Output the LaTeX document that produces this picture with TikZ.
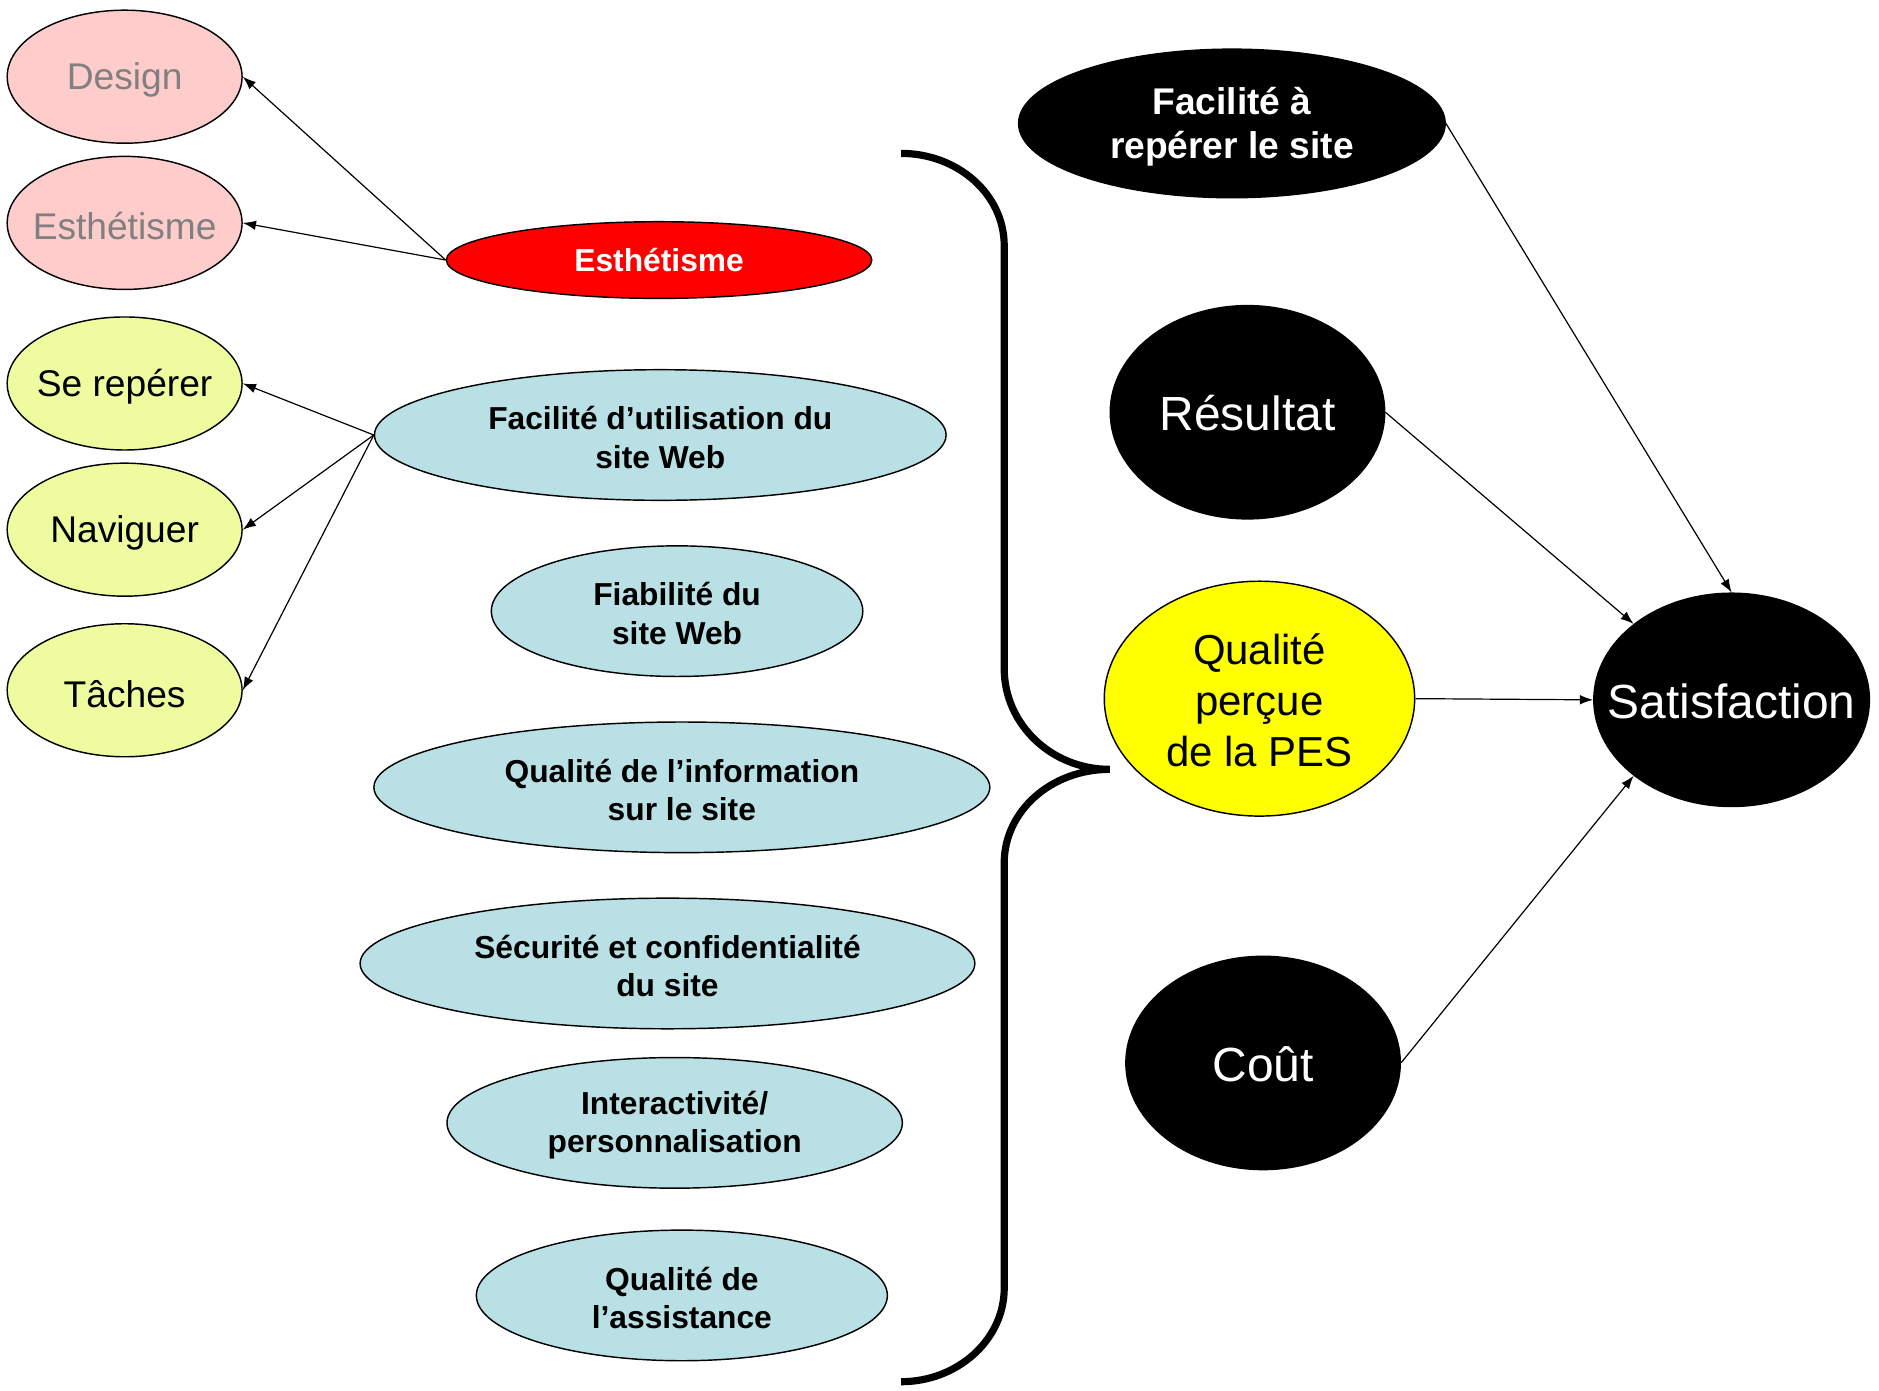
\documentclass[tikz,border=0pt]{standalone}
\usepackage{fontspec}
\setmainfont{Liberation Sans}
\usetikzlibrary{shapes.geometric,arrows.meta}

\definecolor{pinkfill}{HTML}{FFCCCC}
\definecolor{greytext}{HTML}{808080}
\definecolor{limefill}{HTML}{EEFC9F}
\definecolor{bluefill}{HTML}{B9E0E4}
\definecolor{redfill}{HTML}{FF0000}
\definecolor{yellowfill}{HTML}{FFFF00}

\begin{document}
\begin{tikzpicture}[x=1pt,y=-1pt,
  oval/.style={ellipse,draw=black,line width=1.2pt,inner sep=0pt},
  leftoval/.style={oval,minimum width=196pt,minimum height=111pt},
  blueoval/.style={oval,fill=bluefill,minimum height=109pt},
  darkoval/.style={oval,fill=black},
  lbl/.style={align=center,inner sep=0pt},
  leftlbl/.style={lbl,yshift=-3pt,font=\fontsize{31}{37}\selectfont},
  boldlbl/.style={lbl,font=\fontsize{26.5}{32}\selectfont\bfseries},
  bluelbl/.style={boldlbl,yshift=-2pt},
  biglbl/.style={lbl,text=white,yshift=-1pt,font=\fontsize{40}{46}\selectfont},
  conn/.style={-{Latex[length=11pt,width=8pt]},line width=1pt},
]
\useasboundingbox (0,0) rectangle (1568,1160);

% left column: detailed dimensions
\node[leftoval,fill=pinkfill,label={[leftlbl,text=greytext]center:Design}] (design) at (104,64) {};
\node[leftoval,fill=pinkfill,label={[leftlbl,text=greytext]center:Esthétisme}] (esth) at (104,186) {};
\node[leftoval,fill=limefill,label={[leftlbl]center:Se repérer}] (reperer) at (104,320) {};
\node[leftoval,fill=limefill,label={[leftlbl]center:Naviguer}] (naviguer) at (104,442) {};
\node[leftoval,fill=limefill,label={[leftlbl]center:Tâches}] (taches) at (104,576) {};

% middle column: quality dimensions of the site
\node[oval,fill=redfill,minimum width=355pt,minimum height=64pt,
  label={[boldlbl,text=white]center:Esthétisme}] (esthred) at (550,217) {};
\node[blueoval,minimum width=477pt,
  label={[bluelbl]center:Facilité d’utilisation du\\site Web}] (utilisation) at (551,363) {};
\node[blueoval,minimum width=310pt,
  label={[bluelbl]center:Fiabilité du\\site Web}] (fiabilite) at (565,510) {};
\node[blueoval,minimum width=514pt,
  label={[bluelbl]center:Qualité de l’information\\sur le site}] (information) at (569,657) {};
\node[blueoval,minimum width=513pt,
  label={[bluelbl]center:Sécurité et confidentialité\\du site}] (securite) at (557,804) {};
\node[blueoval,minimum width=380pt,
  label={[bluelbl]center:Interactivité/\\personnalisation}] (interactivite) at (563,937) {};
\node[blueoval,minimum width=343pt,
  label={[bluelbl]center:Qualité de\\l’assistance}] (assistance) at (569,1081) {};

% brace grouping the quality dimensions
\draw[line width=6pt]
  (752,128) .. controls (799,128) and (838,162) .. (838,205)
  -- (838,558) .. controls (838,604) and (877,642) .. (926,642)
  .. controls (877,642) and (838,677) .. (838,720)
  -- (838,1075) .. controls (838,1118) and (799,1153) .. (752,1153);

% right side: satisfaction model
\node[darkoval,minimum width=356pt,minimum height=124pt,
  label={[lbl,text=white,yshift=-3pt,font=\fontsize{31}{37}\selectfont\bfseries]center:Facilité à\\repérer le site}] (facilite) at (1028,103) {};
\node[darkoval,minimum width=229pt,minimum height=178pt,
  label={[biglbl]center:Résultat}] (resultat) at (1041,344) {};
\node[oval,fill=yellowfill,minimum width=259pt,minimum height=196pt,
  label={[lbl,yshift=-1pt,font=\fontsize{35}{42.5}\selectfont]center:Qualité\\perçue\\de la PES}] (qualite) at (1051,583) {};
\node[darkoval,minimum width=229pt,minimum height=178pt,
  label={[biglbl]center:Coût}] (cout) at (1054,887) {};
\node[darkoval,minimum width=230pt,minimum height=178pt,
  label={[biglbl]center:Satisfaction}] (satisfaction) at (1445,584) {};

% connectors
\draw[conn] (esthred.west) -- (design.east);
\draw[conn] (esthred.west) -- (esth.east);
\draw[conn] (utilisation.west) -- (reperer.east);
\draw[conn] (utilisation.west) -- (naviguer.east);
\draw[conn] (utilisation.west) -- (taches.east);
\draw[conn] (facilite.east) -- (satisfaction.north);
\draw[conn] (resultat.east) -- (satisfaction.north west);
\draw[conn] (qualite.east) -- (satisfaction.west);
\draw[conn] (cout.east) -- (satisfaction.south west);
\end{tikzpicture}
\end{document}
